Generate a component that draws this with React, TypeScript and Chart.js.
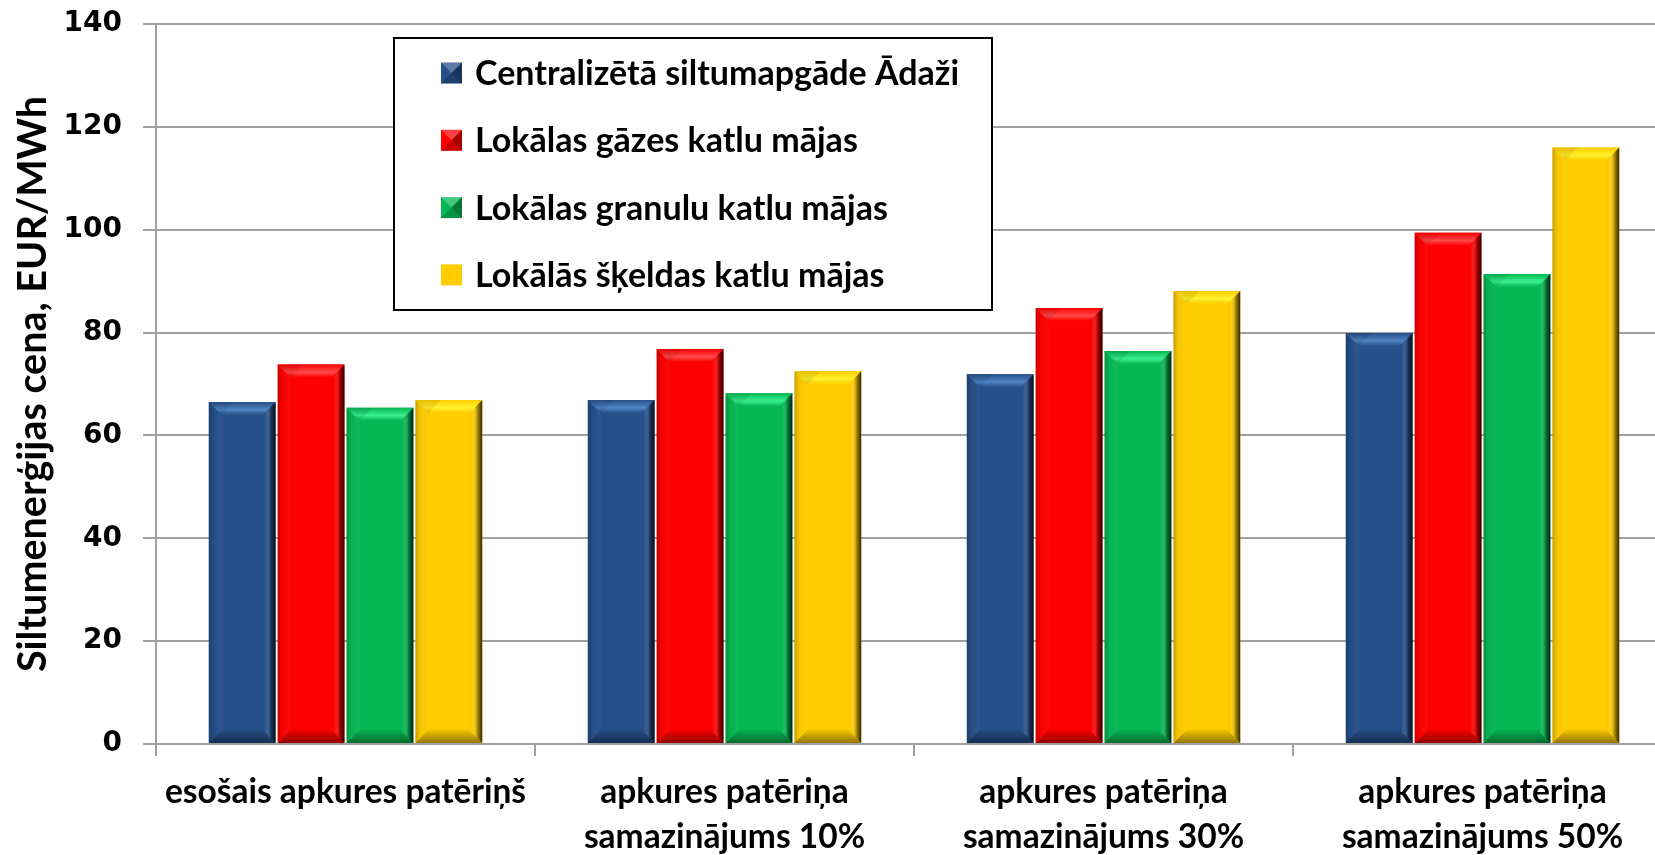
import React, { useEffect, useRef } from 'react';
import { Chart, registerables } from 'chart.js';

Chart.register(...registerables);

const categories: (string | string[])[] = [
  'esošais apkures patēriņš',
  ['apkures patēriņa', 'samazinājums 10%'],
  ['apkures patēriņa', 'samazinājums 30%'],
  ['apkures patēriņa', 'samazinājums 50%'],
];

const seriesNames = [
  'Centralizētā siltumapgāde Ādaži',
  'Lokālas gāzes katlu mājas',
  'Lokālas granulu katlu mājas',
  'Lokālās šķeldas katlu mājas',
];

const centralValues = [66.5, 66.9, 71.9, 79.9];
const gasValues = [73.8, 76.8, 84.8, 99.4];
const pelletValues = [65.4, 68.2, 76.4, 91.4];
const chipValues = [66.9, 72.5, 88.1, 116.0];

const seriesColors = ['#26508A', '#FF0000', '#05B853', '#FFCC00'];
const highlightColors = ['#5284C4', '#FF4A4A', '#3AF08E', '#FFF22E'];

const yMin = 0;
const yMax = 140;
const yStep = 20;
const yTitle = 'Siltumenerģijas cena, EUR/MWh';

const TEXT_FONT = 'Lato, "Open Sans", sans-serif';

const bevelPlugin = {
  id: 'bevel',
  afterDatasetsDraw(chart: any) {
    const ctx = chart.ctx as CanvasRenderingContext2D;
    ctx.save();
    chart.data.datasets.forEach((ds: any, i: number) => {
      const meta = chart.getDatasetMeta(i);
      const base = ds.backgroundColor;
      const hi = highlightColors[i % highlightColors.length];
      meta.data.forEach((bar: any) => {
        const p = bar.getProps(['x', 'y', 'base', 'width'], true);
        const l = p.x - p.width / 2;
        const r = p.x + p.width / 2;
        const t = Math.min(p.y, p.base);
        const b = Math.max(p.y, p.base);
        const bv = Math.min(13, (b - t) / 2, p.width / 3);
        // top bevel
        let g = ctx.createLinearGradient(0, t, 0, t + bv);
        g.addColorStop(0, base);
        g.addColorStop(0.6, hi);
        g.addColorStop(1, base);
        ctx.fillStyle = g;
        ctx.beginPath();
        ctx.moveTo(l, t);
        ctx.lineTo(r, t);
        ctx.lineTo(r - bv, t + bv);
        ctx.lineTo(l + bv, t + bv);
        ctx.closePath();
        ctx.fill();
        // top bevel left corner slightly darker
        ctx.fillStyle = 'rgba(0,0,0,0.08)';
        ctx.beginPath();
        ctx.moveTo(l, t);
        ctx.lineTo(l + bv, t + bv);
        ctx.lineTo(l + bv * 2, t);
        ctx.closePath();
        ctx.fill();
        // right side
        g = ctx.createLinearGradient(r - bv, 0, r, 0);
        g.addColorStop(0, 'rgba(0,0,0,0)');
        g.addColorStop(0.3, 'rgba(255,255,255,0.08)');
        g.addColorStop(0.65, 'rgba(0,0,0,0.35)');
        g.addColorStop(1, 'rgba(0,0,0,0.8)');
        ctx.fillStyle = g;
        ctx.beginPath();
        ctx.moveTo(r, t);
        ctx.lineTo(r, b);
        ctx.lineTo(r - bv, b - bv);
        ctx.lineTo(r - bv, t + bv);
        ctx.closePath();
        ctx.fill();
        // left side thin shade
        g = ctx.createLinearGradient(l, 0, l + bv, 0);
        g.addColorStop(0, 'rgba(0,0,0,0.22)');
        g.addColorStop(0.35, 'rgba(0,0,0,0.04)');
        g.addColorStop(1, 'rgba(255,255,255,0.04)');
        ctx.fillStyle = g;
        ctx.beginPath();
        ctx.moveTo(l, t);
        ctx.lineTo(l + bv, t + bv);
        ctx.lineTo(l + bv, b - bv);
        ctx.lineTo(l, b);
        ctx.closePath();
        ctx.fill();
        // bottom
        g = ctx.createLinearGradient(0, b - bv, 0, b);
        g.addColorStop(0, 'rgba(0,0,0,0.05)');
        g.addColorStop(1, 'rgba(0,0,0,0.42)');
        ctx.fillStyle = g;
        ctx.beginPath();
        ctx.moveTo(l, b);
        ctx.lineTo(r, b);
        ctx.lineTo(r - bv, b - bv);
        ctx.lineTo(l + bv, b - bv);
        ctx.closePath();
        ctx.fill();
      });
    });
    ctx.restore();
  },
};

const boxLegendPlugin = {
  id: 'boxLegend',
  afterDraw(chart: any) {
    const ctx = chart.ctx as CanvasRenderingContext2D;
    const lx = 394;
    const ly = 38;
    const lw = 598;
    const lh = 272;
    ctx.save();
    ctx.fillStyle = '#FFFFFF';
    ctx.fillRect(lx, ly, lw, lh);
    ctx.strokeStyle = '#000000';
    ctx.lineWidth = 2;
    ctx.strokeRect(lx, ly, lw, lh);
    const n = chart.data.datasets.length;
    const rowGap = 67.3;
    for (let i = 0; i < n; i++) {
      const ds = chart.data.datasets[i];
      const cy = ly + 35 + i * rowGap;
      const sx = 441;
      const s = 21;
      const sy = cy - s / 2;
      ctx.fillStyle = ds.backgroundColor;
      ctx.fillRect(sx, sy, s, s);
      if (i < 3) {
        const h = s / 2;
        ctx.fillStyle = 'rgba(255,255,255,0.25)';
        ctx.beginPath();
        ctx.moveTo(sx, sy);
        ctx.lineTo(sx + s, sy);
        ctx.lineTo(sx + h, sy + h);
        ctx.closePath();
        ctx.fill();
        ctx.fillStyle = 'rgba(0,0,0,0.35)';
        ctx.beginPath();
        ctx.moveTo(sx + s, sy);
        ctx.lineTo(sx + s, sy + s);
        ctx.lineTo(sx + h, sy + h);
        ctx.closePath();
        ctx.fill();
        ctx.fillStyle = 'rgba(0,0,0,0.2)';
        ctx.beginPath();
        ctx.moveTo(sx, sy + s);
        ctx.lineTo(sx + s, sy + s);
        ctx.lineTo(sx + h, sy + h);
        ctx.closePath();
        ctx.fill();
      }
      ctx.fillStyle = '#000000';
      ctx.font = `bold 34px ${TEXT_FONT}`;
      ctx.textBaseline = 'middle';
      ctx.textAlign = 'left';
      ctx.fillText(ds.label, 475, cy + 1);
    }
    ctx.restore();
  },
};

export default function App() {
  const canvasRef = useRef<HTMLCanvasElement | null>(null);

  useEffect(() => {
    if (!canvasRef.current) return;
    const valueSets = [centralValues, gasValues, pelletValues, chipValues];
    const chart = new Chart(canvasRef.current, {
      type: 'bar',
      data: {
        labels: categories,
        datasets: seriesNames.map((name, i) => ({
          label: name,
          data: valueSets[i],
          backgroundColor: seriesColors[i],
          borderWidth: 0,
          categoryPercentage: 0.727,
          barPercentage: 0.97,
        })),
      },
      options: {
        animation: false,
        responsive: true,
        maintainAspectRatio: false,
        layout: { padding: { top: 24, right: 0, bottom: 0, left: 0 } },
        plugins: {
          legend: { display: false },
          tooltip: { enabled: false },
        },
        scales: {
          x: {
            grid: {
              display: true,
              drawOnChartArea: false,
              drawTicks: true,
              tickLength: 12,
              offset: true,
              color: '#A0A0A0',
              lineWidth: 2,
            },
            border: { color: '#A0A0A0', width: 2 },
            ticks: {
              color: '#000000',
              font: { family: TEXT_FONT, size: 33.5, weight: 'bold', lineHeight: 1.34 },
              padding: 14,
              maxRotation: 0,
              autoSkip: false,
            },
            afterFit: (scale: any) => {
              scale.height = 111;
            },
          },
          y: {
            min: yMin,
            max: yMax,
            grid: {
              color: '#A0A0A0',
              lineWidth: 2,
              drawTicks: true,
              tickLength: 13,
            },
            border: { color: '#A0A0A0', width: 2 },
            ticks: {
              stepSize: yStep,
              color: '#000000',
              font: { family: '"DejaVu Sans", Verdana, sans-serif', size: 28, weight: 'bold', lineHeight: 0.05 },
              padding: 21,
            },
            title: {
              display: true,
              text: yTitle,
              color: '#000000',
              font: { family: TEXT_FONT, size: 39.5, weight: 'bold', lineHeight: 1.2 },
              padding: { top: 10, bottom: 0 },
            },
            afterFit: (scale: any) => {
              scale.width = 156;
            },
          },
        },
      },
      plugins: [bevelPlugin, boxLegendPlugin],
    });
    return () => chart.destroy();
  }, []);

  return (
    <div
      style={{
        position: 'fixed',
        left: 0,
        top: 0,
        width: 1655,
        height: 855,
        overflow: 'hidden',
        background: '#FFFFFF',
      }}
    >
      <div style={{ position: 'relative', width: 1672, height: 855 }}>
        <canvas ref={canvasRef} />
      </div>
    </div>
  );
}
